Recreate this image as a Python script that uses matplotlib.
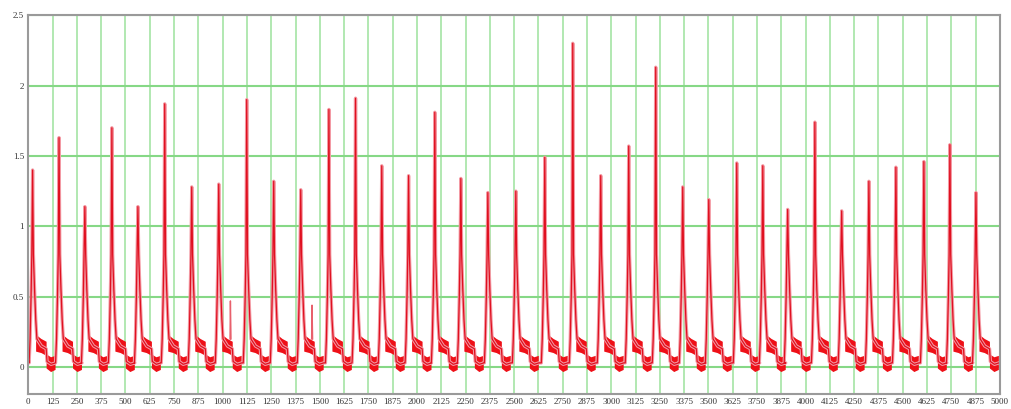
import matplotlib.pyplot as plt
from matplotlib.ticker import MultipleLocator

# peak position (sample index) and height of each pulse
peak_x = [22, 158, 291, 430, 564, 702, 841, 980, 1124, 1263, 1402, 1547,
          1684, 1819, 1957, 2092, 2226, 2365, 2509, 2658, 2802, 2946, 3090, 3229,
          3368, 3502, 3646, 3780, 3908, 4048, 4186, 4326, 4465, 4609, 4743, 4877]
peak_y = [1.40, 1.63, 1.14, 1.70, 1.14, 1.87, 1.28, 1.30, 1.90, 1.32, 1.26, 1.83,
          1.91, 1.43, 1.36, 1.81, 1.34, 1.24, 1.25, 1.49, 2.30, 1.36, 1.57, 2.13,
          1.28, 1.19, 1.45, 1.43, 1.12, 1.74, 1.11, 1.32, 1.42, 1.46, 1.58, 1.24]

# common pulse outline: offset from the peak (samples) and level
beat_offset = [-18, -13, -8, -4, 0, 4, 10, 16, 22, 45, 70, 74, 95, 118]
beat_level = [0.03, 0.20, 0.50, 0.80, None, 0.80, 0.55, 0.34, 0.20,
              0.15, 0.13, 0.04, 0.02, 0.03]

# noisy band after each pulse: offsets with top / bottom of the band
plateau_offset = [18, 45, 72]
plateau_top = [0.23, 0.20, 0.18]
plateau_bottom = [0.11, 0.10, 0.08]
trough_offset = [72, 95, 118]
trough_top = [0.09, 0.07, 0.08]
trough_bottom = [-0.01, -0.035, -0.02]

# thin extra spikes seen in two cycles
extra_x = [1040, 1460]
extra_y = [0.47, 0.44]

start_level = 0.05
end_level = 0.03

xs, ys = [0], [start_level]
for px, py in zip(peak_x, peak_y):
    for o, v in zip(beat_offset, beat_level):
        xs.append(px + o)
        ys.append(py if v is None else v)
xs.append(5000)
ys.append(end_level)

fig = plt.figure(figsize=(10.12, 4.09), dpi=100)
ax = fig.add_axes([0.028, 0.037, 0.96, 0.926])

ax.plot(xs, ys, color='#f39aa4', lw=2.4)
ax.plot(xs, ys, color='#e01020', lw=0.9)

for px in peak_x:
    ax.fill_between([px + o for o in plateau_offset], plateau_bottom, plateau_top,
                    facecolor='#ee1018', lw=0)
    ax.fill_between([px + o for o in trough_offset], trough_bottom, trough_top,
                    facecolor='#ee1018', lw=0)

for ex, ey in zip(extra_x, extra_y):
    ax.plot([ex - 2, ex, ex + 3], [0.2, ey, 0.2], color='#e8606c', lw=1.0)

ax.set_xlim(0, 5000)
ax.set_ylim(-0.19, 2.5)
ax.xaxis.set_major_locator(MultipleLocator(125))
ax.set_yticks([0, 0.5, 1, 1.5, 2, 2.5], ['0', '0.5', '1', '1.5', '2', '2.5'])

ax.set_axisbelow(True)
ax.grid(axis='x', color='#9ce29c', lw=1.1)
ax.grid(axis='y', color='#86d886', lw=1.5)

for s in ax.spines.values():
    s.set_color('#9a9a9a')
    s.set_linewidth(1.5)

ax.tick_params(length=0, pad=3, labelsize=6.5, labelcolor='#333333')
for lab in ax.get_xticklabels() + ax.get_yticklabels():
    lab.set_family('Liberation Serif')

fig.savefig('out.png', dpi=100)
